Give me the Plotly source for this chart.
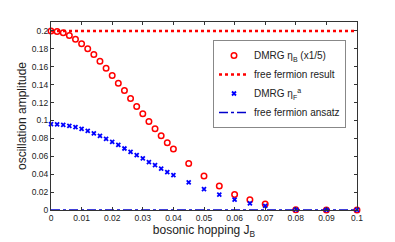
import plotly.graph_objects as go

x_dmrg = [0, 0.002, 0.004, 0.006, 0.008, 0.010, 0.012, 0.014, 0.016, 0.018,
          0.020, 0.022, 0.024, 0.026, 0.028, 0.030, 0.032, 0.034, 0.036, 0.038,
          0.040, 0.045, 0.050, 0.055, 0.060, 0.065, 0.070, 0.080, 0.090, 0.100]
eta_b_scaled = [0.2, 0.1995, 0.198, 0.1948, 0.1907, 0.1858, 0.180, 0.1736, 0.1662, 0.1584,
                0.1501, 0.1417, 0.1334, 0.1245, 0.1156, 0.1074, 0.0988, 0.0907, 0.0829, 0.0751,
                0.068, 0.052, 0.0379, 0.0268, 0.0174, 0.0115, 0.0067, 0.0004, 0.0001, 0.0001]
eta_f = [0.0959, 0.0957, 0.0951, 0.0940, 0.0926, 0.0907, 0.0885, 0.0855, 0.0829, 0.0795,
         0.0762, 0.0728, 0.0687, 0.0650, 0.0613, 0.0576, 0.0535, 0.0502, 0.0461, 0.0424,
         0.0390, 0.0308, 0.0234, 0.0171, 0.0115, 0.0074, 0.0045, 0.0003, 0.0001, 0.0001]
x_line = [0, 0.1]
free_fermion_result = [0.2, 0.2]
free_fermion_ansatz = [0, 0]

x_ticks = [0, 0.01, 0.02, 0.03, 0.04, 0.05, 0.06, 0.07, 0.08, 0.09, 0.1]
x_ticktext = ["0", "0.01", "0.02", "0.03", "0.04", "0.05", "0.06", "0.07", "0.08", "0.09", "0.1"]
y_ticks = [0, 0.02, 0.04, 0.06, 0.08, 0.1, 0.12, 0.14, 0.16, 0.18, 0.2]
y_ticktext = ["0", "0.02", "0.04", "0.06", "0.08", "0.1", "0.12", "0.14", "0.16", "0.18", "0.2"]

fig = go.Figure()
fig.add_trace(go.Scatter(
    x=x_dmrg, y=eta_b_scaled, mode="markers", name="DMRG η<sub>B</sub> (x1/5)",
    marker=dict(symbol="circle-open", size=5.5, color="#ff0000", line=dict(width=1.5, color="#ff0000")),
    cliponaxis=False))
fig.add_trace(go.Scatter(
    x=x_line, y=free_fermion_result, mode="lines", name="free fermion result",
    line=dict(color="#ff0000", width=2.5, dash="3px,3px")))
fig.add_trace(go.Scatter(
    x=x_dmrg, y=eta_f, mode="markers", name="DMRG η<sub>F</sub><sup>a</sup>",
    marker=dict(symbol="x-thin-open", size=4, color="#0000ff", line=dict(width=1.8, color="#0000ff")),
    cliponaxis=False))
fig.add_trace(go.Scatter(
    x=x_line, y=free_fermion_ansatz, mode="lines", name="free fermion ansatz",
    line=dict(color="#0000cc", width=1.6, dash="dashdot"), cliponaxis=False))

axis_common = dict(
    showline=True, linecolor="#333333", linewidth=1, mirror="ticks",
    ticks="inside", ticklen=3, tickcolor="#333333", showgrid=False, zeroline=False,
    automargin=False,
    tickfont=dict(family="Liberation Sans, Arial, sans-serif", size=8.5, color="#222222"),
)

# page body has an 8px margin, so the figure is drawn 8px right and down
fig.update_layout(
    width=387, height=234,
    margin=dict(l=43, r=38, t=14, b=32),
    paper_bgcolor="white", plot_bgcolor="white",
    font=dict(family="Liberation Sans, Arial, sans-serif", color="#222222"),
    xaxis=dict(range=[0, 0.1], tickvals=x_ticks, ticktext=x_ticktext,
               title=dict(text="bosonic hopping J<sub>B</sub>", font=dict(size=12), standoff=3),
               **axis_common),
    yaxis=dict(range=[0, 0.21], tickvals=y_ticks, ticktext=y_ticktext,
               title=dict(text="oscillation amplitude", font=dict(size=12), standoff=2),
               **axis_common),
    legend=dict(x=(213 - 51) / 306, y=(210 - 40) / 188, xanchor="left", yanchor="top",
                bgcolor="white", bordercolor="#888888", borderwidth=1,
                font=dict(size=10), tracegroupgap=0, itemwidth=30),
    showlegend=True,
)

fig.write_html("out.html")
